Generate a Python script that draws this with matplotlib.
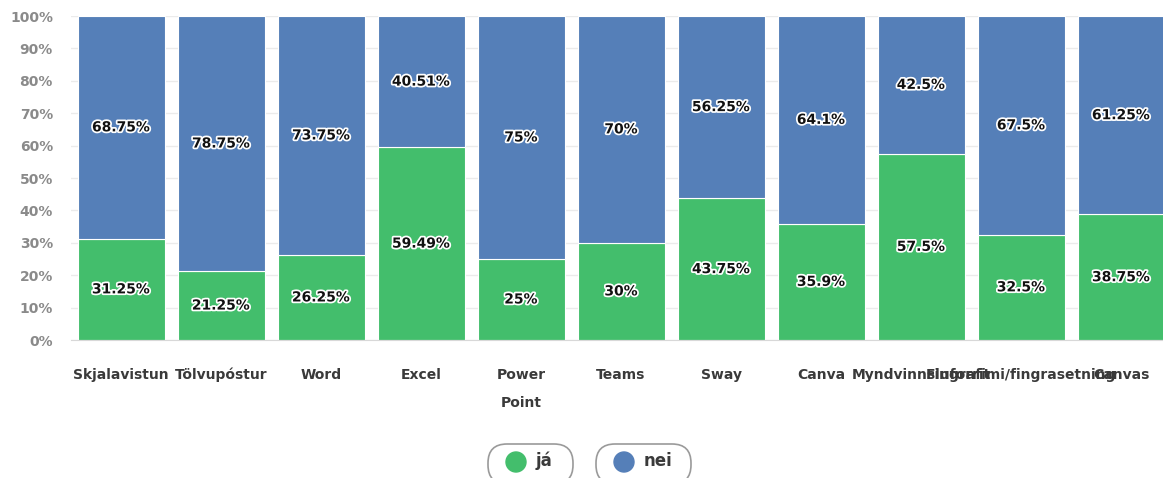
import numpy as np
import matplotlib
matplotlib.use('Agg')
import matplotlib.pyplot as plt
import matplotlib.patheffects as pe
from matplotlib.patches import FancyBboxPatch, Circle

categories = ['Skjalavistun', 'Tölvupóstur', 'Word', 'Excel', 'Power\nPoint', 'Teams',
              'Sway', 'Canva', 'Myndvinnsluforrit', 'Fingrafimi/fingrasetning', 'Canvas']
ja = [31.25, 21.25, 26.25, 59.49, 25, 30, 43.75, 35.9, 57.5, 32.5, 38.75]
nei = [68.75, 78.75, 73.75, 40.51, 75, 70, 56.25, 64.1, 42.5, 67.5, 61.25]
series_names = ['já', 'nei']
colors = ['#43be6c', '#557fb8']

W, H = 1163, 478
fig = plt.figure(figsize=(W / 100, H / 100), dpi=100)
ax_h = 324
ax = fig.add_axes([71 / W, (H - 340) / H, 1100 / W, ax_h / H])

x = np.arange(len(categories))
ja = np.array(ja)
nei = np.array(nei)
ax.bar(x, ja, width=0.87, color=colors[0], edgecolor='white', linewidth=0.8, zorder=2)
ax.bar(x, nei, bottom=ja, width=0.87, color=colors[1], edgecolor='white', linewidth=0.8, zorder=2)

stroke = [pe.withStroke(linewidth=2.5, foreground='white')]
for i in range(len(x)):
    ax.text(x[i], ja[i] / 2, f'{ja[i]:g}%', ha='center', va='center', fontsize=10,
            fontweight='bold', color='#111111', path_effects=stroke, zorder=3)
    ax.text(x[i], ja[i] + nei[i] / 2, f'{nei[i]:g}%', ha='center', va='center', fontsize=10,
            fontweight='bold', color='#111111', path_effects=stroke, zorder=3)

ax.set_xlim(-0.5, len(categories) - 0.5)
ax.set_ylim(0, 100)
ax.set_yticks(np.arange(0, 101, 10))
ax.set_yticklabels([f'{v}%' for v in range(0, 101, 10)], fontsize=10, fontweight='bold', color='#8a8a8a')
ax.set_xticks(x)
ax.set_xticklabels([])
ax.tick_params(axis='both', length=0)
ax.tick_params(axis='y', pad=13)

# category labels: one baseline per line, lines 28 px apart
for xi, cat in zip(x, categories):
    n = cat.count('\n')
    ax.text(xi, -(39 + 28 * n) / ax_h, cat, transform=ax.get_xaxis_transform(),
            ha='center', va='baseline', fontsize=10, fontweight='bold', color='#3a3a3a',
            linespacing=2.25, multialignment='center')

ax.grid(axis='y', color='#ebebeb', linewidth=1, zorder=0)
for s in ['top', 'right', 'left']:
    ax.spines[s].set_visible(False)
ax.spines['bottom'].set_color('#d8d8d8')

# legend pills
lg = fig.add_axes([0, 0, 1, 1], zorder=5)
lg.set_xlim(0, W)
lg.set_ylim(H, 0)
lg.axis('off')
pills = [(488, 85), (596, 95)]
for (px, pw), name, c in zip(pills, series_names, colors):
    lg.add_patch(FancyBboxPatch((px, 444), pw, 40, boxstyle='round,pad=0,rounding_size=19',
                                facecolor='white', edgecolor='#9a9a9a', linewidth=1.2))
    lg.add_patch(Circle((px + 28, 462), 10, color=c))
    lg.text(px + 48, 461, name, ha='left', va='center', fontsize=12, fontweight='bold', color='#3a3a3a')

fig.savefig('out.png', dpi=100)
